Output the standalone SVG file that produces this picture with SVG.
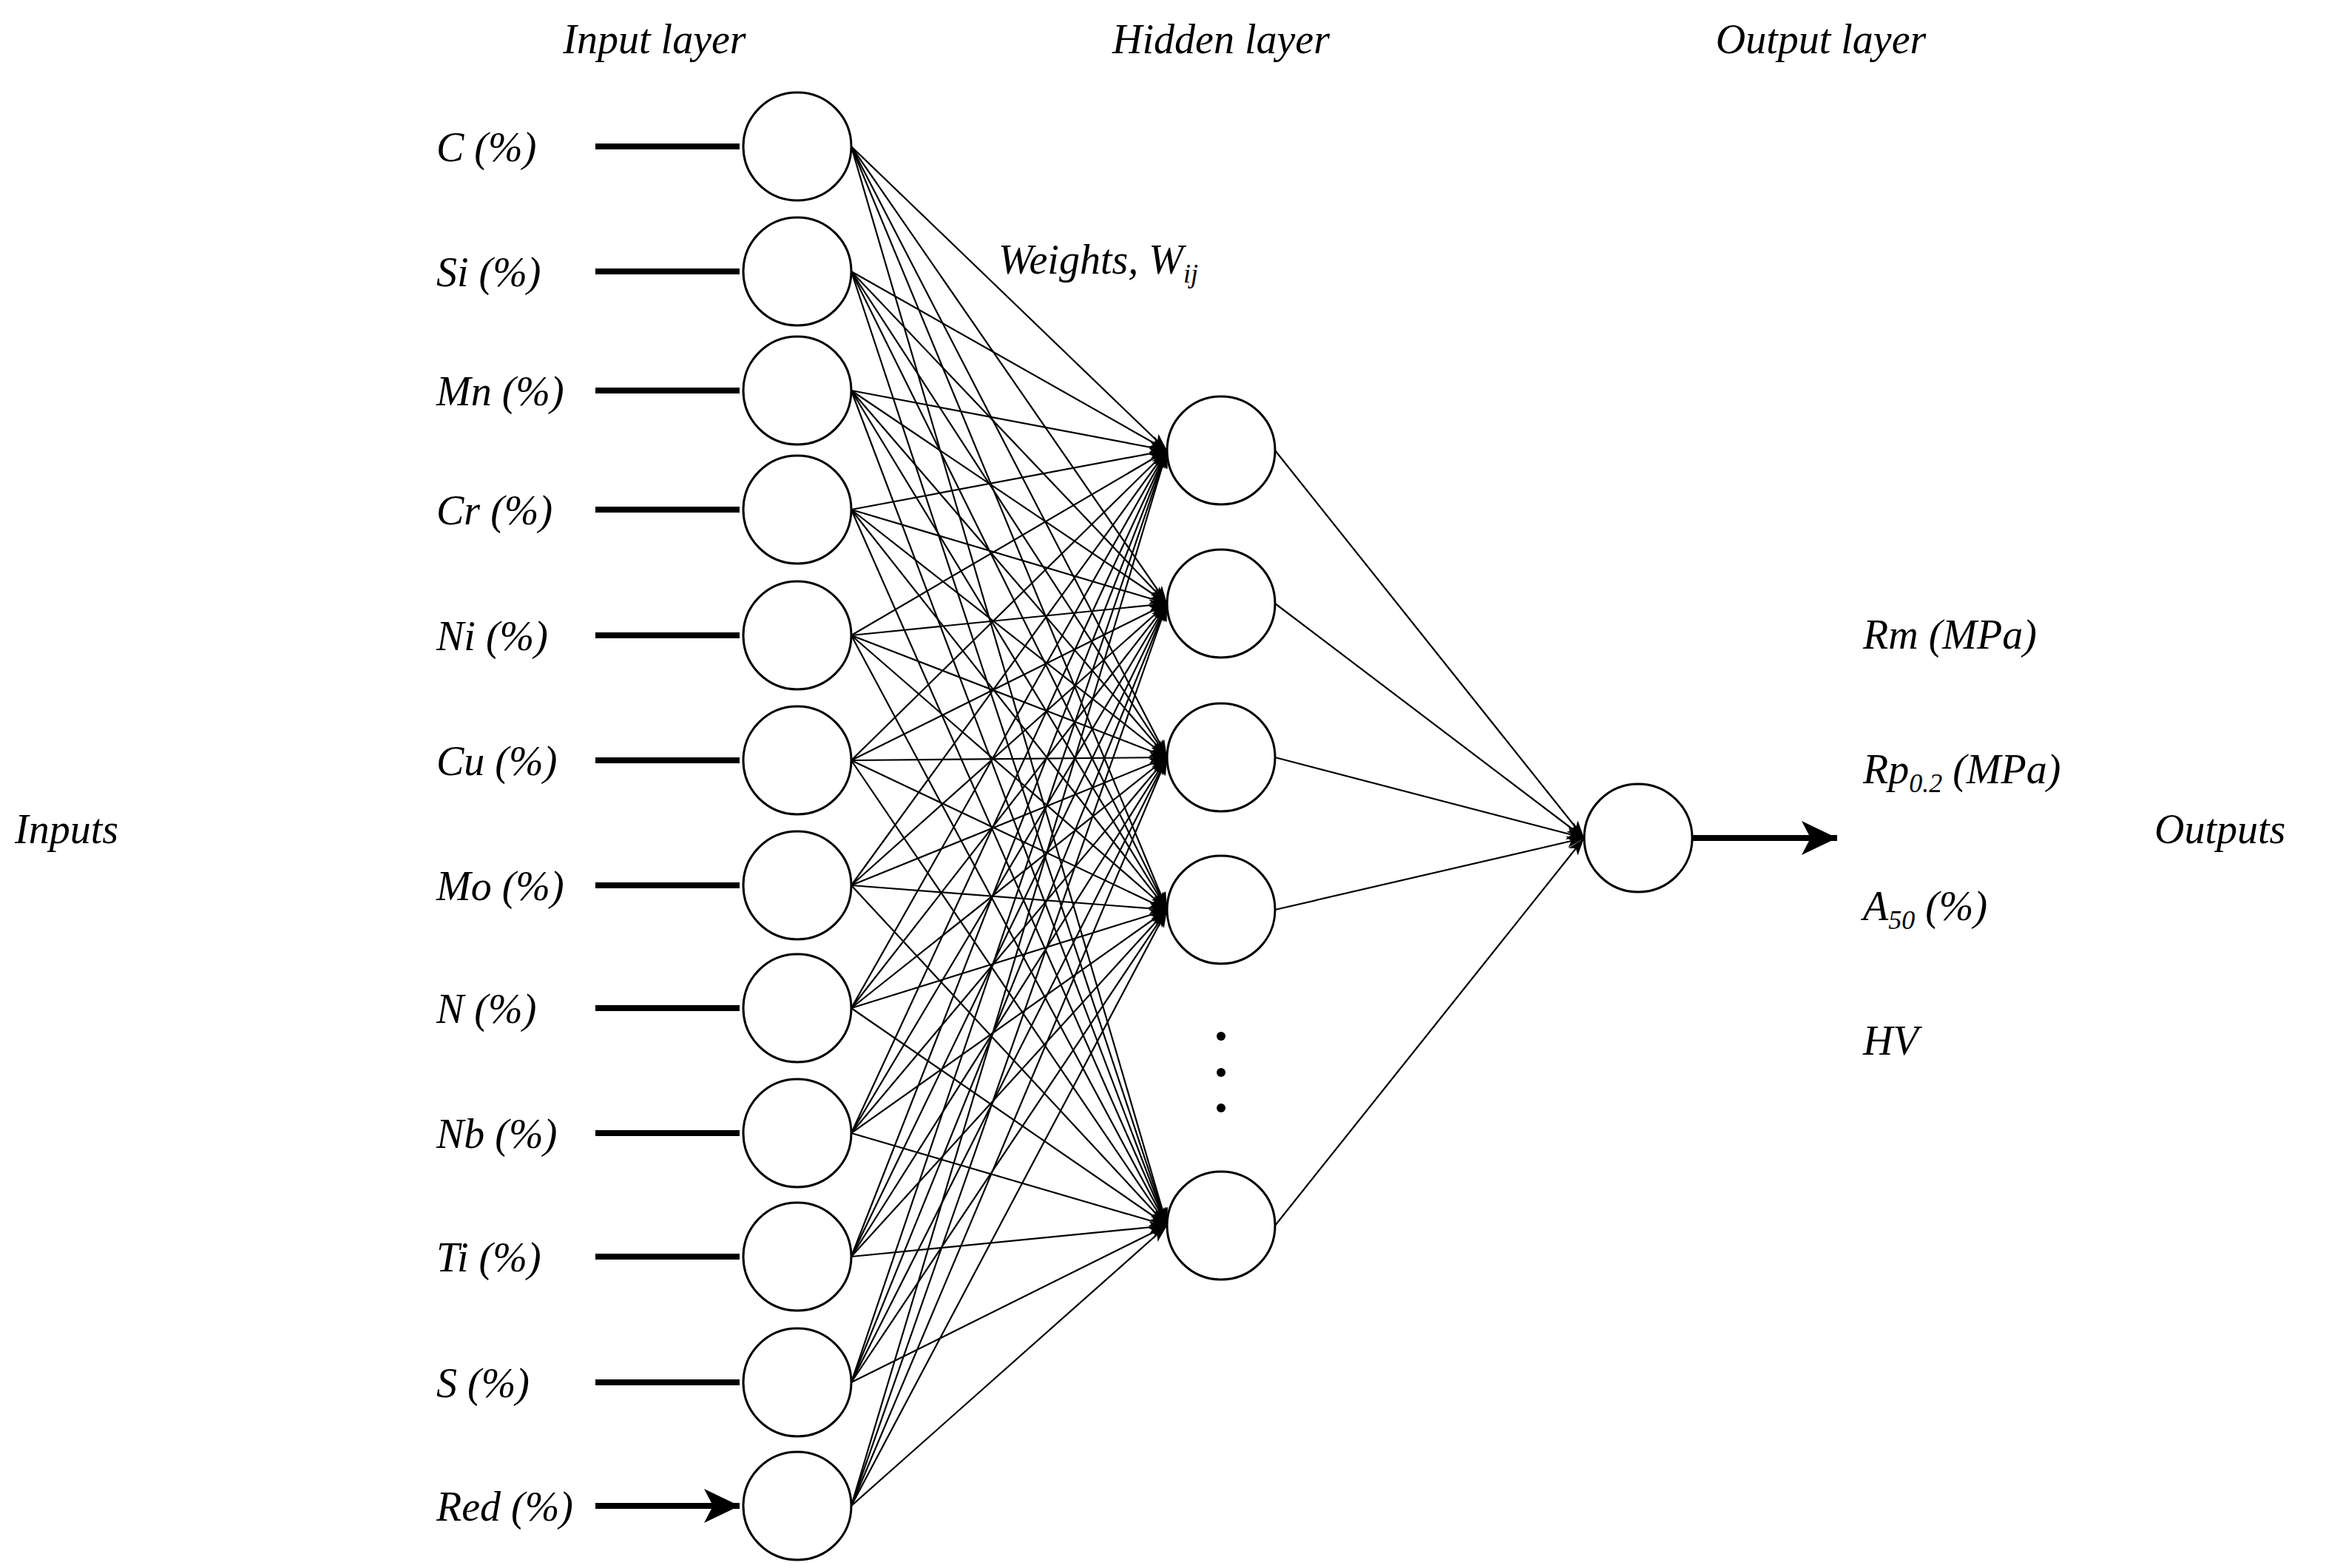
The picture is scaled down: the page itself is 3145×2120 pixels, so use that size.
<svg xmlns="http://www.w3.org/2000/svg" width="3145" height="2120" viewBox="0 0 3145 2120">
<style>
text{font-family:"Liberation Serif","Times New Roman",serif;font-style:italic;font-size:56px;fill:#000}
.n{fill:#fff;stroke:#000;stroke-width:3}
.w{stroke:#000;stroke-width:2.2;fill:none;marker-end:url(#a)}
.t{stroke:#000;stroke-width:8;fill:none;marker-end:url(#b)}
.sub{font-size:36px}
</style>
<defs>
<marker id="a" markerUnits="userSpaceOnUse" markerWidth="26" markerHeight="16" refX="24" refY="8" orient="auto"><path d="M0,0 L24,8 L0,16 L6,8 Z" fill="#000"/></marker>
<marker id="b" markerUnits="userSpaceOnUse" markerWidth="50" markerHeight="50" refX="48" refY="25" orient="auto"><path d="M0,2 L48,25 L0,48 L12,25 Z" fill="#000"/></marker>
</defs>
<rect width="3145" height="2120" fill="#fff"/>
<g id="titles">
<text x="885" y="72" text-anchor="middle">Input layer</text>
<text x="1651" y="72" text-anchor="middle">Hidden layer</text>
<text x="2462" y="72" text-anchor="middle">Output layer</text>
<text x="20" y="1140">Inputs</text>
<text x="2913" y="1140">Outputs</text>
<text x="1350" y="370">Weights, W<tspan class="sub" dy="12">ij</tspan></text>
</g>
<g id="connectors">
<path class="t" d="M805,198H1000M805,367H1000M805,528H1000M805,689H1000M805,859H1000M805,1028H1000M805,1197H1000M805,1363H1000M805,1532H1000M805,1699H1000M805,1869H1000M805,2036H1000"/>
<line class="t" x1="2288" y1="1133" x2="2484" y2="1133"/>
<g id="w">
<line class="w" x1="1151" y1="198" x2="1578" y2="609"/><line class="w" x1="1151" y1="198" x2="1578" y2="816"/><line class="w" x1="1151" y1="198" x2="1578" y2="1024"/><line class="w" x1="1151" y1="198" x2="1578" y2="1230"/><line class="w" x1="1151" y1="198" x2="1578" y2="1657"/>
<line class="w" x1="1151" y1="367" x2="1578" y2="609"/><line class="w" x1="1151" y1="367" x2="1578" y2="816"/><line class="w" x1="1151" y1="367" x2="1578" y2="1024"/><line class="w" x1="1151" y1="367" x2="1578" y2="1230"/><line class="w" x1="1151" y1="367" x2="1578" y2="1657"/>
<line class="w" x1="1151" y1="528" x2="1578" y2="609"/><line class="w" x1="1151" y1="528" x2="1578" y2="816"/><line class="w" x1="1151" y1="528" x2="1578" y2="1024"/><line class="w" x1="1151" y1="528" x2="1578" y2="1230"/><line class="w" x1="1151" y1="528" x2="1578" y2="1657"/>
<line class="w" x1="1151" y1="689" x2="1578" y2="609"/><line class="w" x1="1151" y1="689" x2="1578" y2="816"/><line class="w" x1="1151" y1="689" x2="1578" y2="1024"/><line class="w" x1="1151" y1="689" x2="1578" y2="1230"/><line class="w" x1="1151" y1="689" x2="1578" y2="1657"/>
<line class="w" x1="1151" y1="859" x2="1578" y2="609"/><line class="w" x1="1151" y1="859" x2="1578" y2="816"/><line class="w" x1="1151" y1="859" x2="1578" y2="1024"/><line class="w" x1="1151" y1="859" x2="1578" y2="1230"/><line class="w" x1="1151" y1="859" x2="1578" y2="1657"/>
<line class="w" x1="1151" y1="1028" x2="1578" y2="609"/><line class="w" x1="1151" y1="1028" x2="1578" y2="816"/><line class="w" x1="1151" y1="1028" x2="1578" y2="1024"/><line class="w" x1="1151" y1="1028" x2="1578" y2="1230"/><line class="w" x1="1151" y1="1028" x2="1578" y2="1657"/>
<line class="w" x1="1151" y1="1197" x2="1578" y2="609"/><line class="w" x1="1151" y1="1197" x2="1578" y2="816"/><line class="w" x1="1151" y1="1197" x2="1578" y2="1024"/><line class="w" x1="1151" y1="1197" x2="1578" y2="1230"/><line class="w" x1="1151" y1="1197" x2="1578" y2="1657"/>
<line class="w" x1="1151" y1="1363" x2="1578" y2="609"/><line class="w" x1="1151" y1="1363" x2="1578" y2="816"/><line class="w" x1="1151" y1="1363" x2="1578" y2="1024"/><line class="w" x1="1151" y1="1363" x2="1578" y2="1230"/><line class="w" x1="1151" y1="1363" x2="1578" y2="1657"/>
<line class="w" x1="1151" y1="1532" x2="1578" y2="609"/><line class="w" x1="1151" y1="1532" x2="1578" y2="816"/><line class="w" x1="1151" y1="1532" x2="1578" y2="1024"/><line class="w" x1="1151" y1="1532" x2="1578" y2="1230"/><line class="w" x1="1151" y1="1532" x2="1578" y2="1657"/>
<line class="w" x1="1151" y1="1699" x2="1578" y2="609"/><line class="w" x1="1151" y1="1699" x2="1578" y2="816"/><line class="w" x1="1151" y1="1699" x2="1578" y2="1024"/><line class="w" x1="1151" y1="1699" x2="1578" y2="1230"/><line class="w" x1="1151" y1="1699" x2="1578" y2="1657"/>
<line class="w" x1="1151" y1="1869" x2="1578" y2="609"/><line class="w" x1="1151" y1="1869" x2="1578" y2="816"/><line class="w" x1="1151" y1="1869" x2="1578" y2="1024"/><line class="w" x1="1151" y1="1869" x2="1578" y2="1230"/><line class="w" x1="1151" y1="1869" x2="1578" y2="1657"/>
<line class="w" x1="1151" y1="2036" x2="1578" y2="609"/><line class="w" x1="1151" y1="2036" x2="1578" y2="816"/><line class="w" x1="1151" y1="2036" x2="1578" y2="1024"/><line class="w" x1="1151" y1="2036" x2="1578" y2="1230"/><line class="w" x1="1151" y1="2036" x2="1578" y2="1657"/>
</g>
<g id="w2">
<line class="w" x1="1724" y1="609" x2="2142" y2="1133"/><line class="w" x1="1724" y1="816" x2="2142" y2="1133"/><line class="w" x1="1724" y1="1024" x2="2142" y2="1133"/><line class="w" x1="1724" y1="1230" x2="2142" y2="1133"/><line class="w" x1="1724" y1="1657" x2="2142" y2="1133"/>
</g>
</g>
<g id="inputs">
<g id="in1"><circle class="n" cx="1078" cy="198" r="73"/><text x="590" y="218">C (%)</text></g>
<g id="in2"><circle class="n" cx="1078" cy="367" r="73"/><text x="590" y="387">Si (%)</text></g>
<g id="in3"><circle class="n" cx="1078" cy="528" r="73"/><text x="590" y="548">Mn (%)</text></g>
<g id="in4"><circle class="n" cx="1078" cy="689" r="73"/><text x="590" y="709">Cr (%)</text></g>
<g id="in5"><circle class="n" cx="1078" cy="859" r="73"/><text x="590" y="879">Ni (%)</text></g>
<g id="in6"><circle class="n" cx="1078" cy="1028" r="73"/><text x="590" y="1048">Cu (%)</text></g>
<g id="in7"><circle class="n" cx="1078" cy="1197" r="73"/><text x="590" y="1217">Mo (%)</text></g>
<g id="in8"><circle class="n" cx="1078" cy="1363" r="73"/><text x="590" y="1383">N (%)</text></g>
<g id="in9"><circle class="n" cx="1078" cy="1532" r="73"/><text x="590" y="1552">Nb (%)</text></g>
<g id="in10"><circle class="n" cx="1078" cy="1699" r="73"/><text x="590" y="1719">Ti (%)</text></g>
<g id="in11"><circle class="n" cx="1078" cy="1869" r="73"/><text x="590" y="1889">S (%)</text></g>
<g id="in12"><circle class="n" cx="1078" cy="2036" r="73"/><text x="590" y="2056">Red (%)</text></g>
</g>
<g id="hidden">
<circle id="h1" class="n" cx="1651" cy="609" r="73"/>
<circle id="h2" class="n" cx="1651" cy="816" r="73"/>
<circle id="h3" class="n" cx="1651" cy="1024" r="73"/>
<circle id="h4" class="n" cx="1651" cy="1230" r="73"/>
<circle id="h5" class="n" cx="1651" cy="1657" r="73"/>
<g id="dots"><circle cx="1651" cy="1401" r="6"/><circle cx="1651" cy="1450" r="6"/><circle cx="1651" cy="1498" r="6"/></g>
</g>
<g id="output">
<circle id="o1" class="n" cx="2215" cy="1133" r="73"/>
<text x="2519" y="877">Rm (MPa)</text>
<text x="2519" y="1059">Rp<tspan class="sub" dy="12">0.2</tspan><tspan dy="-12"> (MPa)</tspan></text>
<text x="2519" y="1244">A<tspan class="sub" dy="12">50</tspan><tspan dy="-12"> (%)</tspan></text>
<text x="2519" y="1426">HV</text>
</g>
</svg>
